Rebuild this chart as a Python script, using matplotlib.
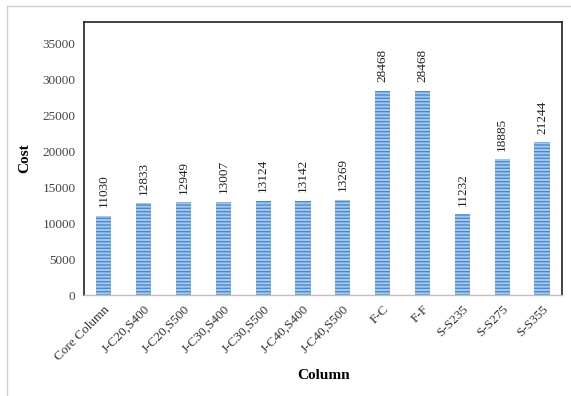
import matplotlib.pyplot as plt
from matplotlib.lines import Line2D

columns = ["Core Column", "J-C20,S400", "J-C20,S500", "J-C30,S400", "J-C30,S500",
           "J-C40,S400", "J-C40,S500", "F-C", "F-F", "S-S235", "S-S275", "S-S355"]
cost = [11030, 12833, 12949, 13007, 13124, 13142, 13269, 28468, 28468, 11232, 18885, 21244]
yticks = [0, 5000, 10000, 15000, 20000, 25000, 30000, 35000]

plt.rcParams["font.family"] = ["Liberation Serif", "DejaVu Serif"]
plt.rcParams["hatch.color"] = "#4a8ad0"
plt.rcParams["hatch.linewidth"] = 1.0

fig = plt.figure(figsize=(5.71, 3.96), dpi=100)
ax = fig.add_axes([0.147, 0.255, 0.837, 0.689])

x = range(len(columns))
ax.bar(x, cost, width=0.38, color="#a4c7ec", hatch="-----", linewidth=0)

for xi, v in zip(x, cost):
    ax.annotate(str(v), (xi, v), xytext=(0, 6), textcoords="offset points",
                rotation=90, ha="center", va="bottom", fontsize=9.5, color="#222222")

ax.set_xlim(-0.5, len(columns) - 0.5)
ax.set_ylim(0, 38000)
ax.set_yticks(yticks)
ax.set_yticklabels([str(t) for t in yticks], fontsize=9.5, color="#444444")
ax.set_xticks(list(x))
ax.set_xticklabels(columns, rotation=45, ha="right", rotation_mode="anchor", fontsize=9.5, color="#333333")
ax.tick_params(length=0, pad=6)

for side in ["left", "top", "right"]:
    ax.spines[side].set_color("#222222")
    ax.spines[side].set_linewidth(1.2)
ax.spines["bottom"].set_color("#bfbfbf")
ax.spines["bottom"].set_linewidth(1.0)

ax.set_ylabel("Cost", fontsize=11, fontweight="bold", labelpad=8)
fig.text(0.566, 0.053, "Column", ha="center", va="center", fontsize=11, fontweight="bold")

# light frame around the chart area
fig.add_artist(Line2D([7 / 571, 7 / 571], [0, 1 - 6 / 396], transform=fig.transFigure,
                      color="#d0d0d0", linewidth=1))
fig.add_artist(Line2D([7 / 571, 1], [1 - 6 / 396, 1 - 6 / 396], transform=fig.transFigure,
                      color="#d0d0d0", linewidth=1))

fig.savefig("out.png", dpi=100)
